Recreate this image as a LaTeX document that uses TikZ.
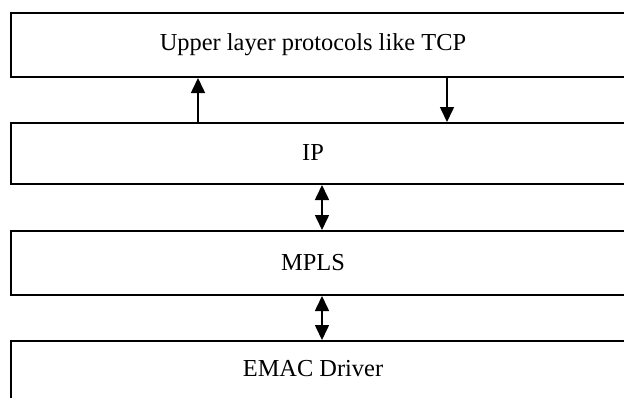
\documentclass[tikz,border=0pt]{standalone}
\usepackage{fontspec}
\setmainfont{Liberation Serif}
\usetikzlibrary{arrows.meta}
\begin{document}
\begin{tikzpicture}[x=1pt,y=-1pt,
  layer/.style={draw,line width=2pt,minimum width=623pt,inner sep=0pt},
  lbl/.style={font=\fontsize{24.4}{28}\selectfont,inner sep=0pt},
  conn/.style={line width=1.6pt,-{Triangle[width=14pt,length=15pt]}},
  dconn/.style={line width=1.6pt,{Triangle[width=14pt,length=15pt]}-{Triangle[width=14pt,length=15pt]}}]
\useasboundingbox (0,0) rectangle (624,397);
\clip (0,0) rectangle (624,397);
\node[layer,minimum height=64pt] (tcp) at (322.5,45) {};
\node[lbl] (tcpt) at (313,45) {Upper layer protocols like TCP};
\node[layer,minimum height=61pt] (ip) at (322.5,153.5) {};
\node[lbl] (ipt) at (313,153) {IP};
\node[layer,minimum height=64pt] (mpls) at (322.5,263) {};
\node[lbl] (mplst) at (313,263) {MPLS};
\node[layer,minimum height=70pt] (emac) at (322.5,376) {};
\node[lbl] (emact) at (313,369) {EMAC Driver};
\coordinate (a1) at (198,123);
\coordinate (b1) at (447,77);
\coordinate (c1) at (322,0);
\draw[conn] (ip.north -| a1) -- (tcp.south -| a1);
\draw[conn] (tcp.south -| b1) -- (ip.north -| b1);
\draw[dconn] (ip.south -| c1) -- (mpls.north -| c1);
\draw[dconn] (mpls.south -| c1) -- (emac.north -| c1);
\end{tikzpicture}
\end{document}
